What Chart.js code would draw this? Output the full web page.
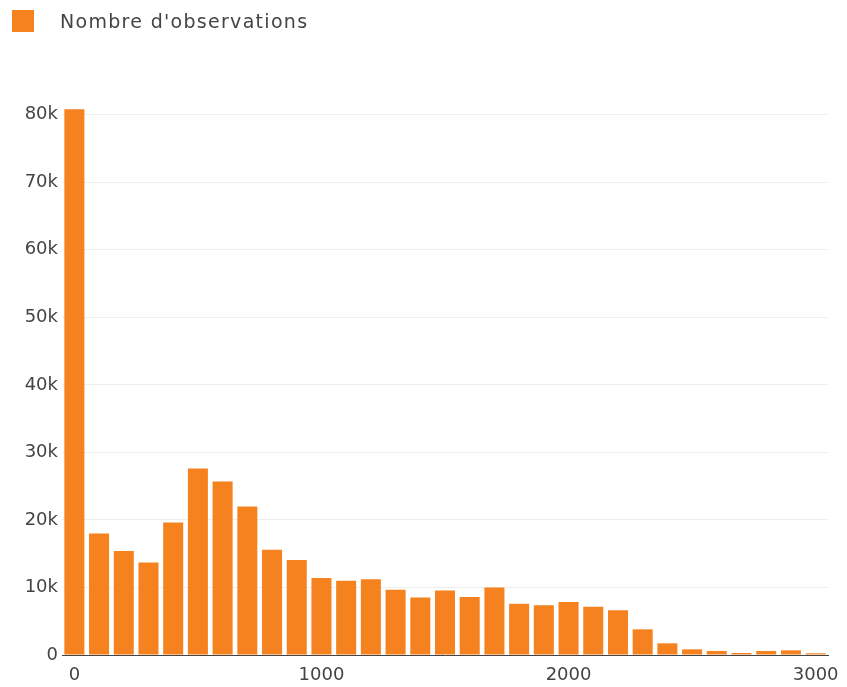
<!DOCTYPE html>
<html>
<head>
<meta charset="utf-8">
<script src="https://cdn.jsdelivr.net/npm/chart.js@4/dist/chart.umd.min.js"></script>
<style>
  html, body { margin: 0; padding: 0; background: #fff; }
  #wrap { position: relative; width: 847px; height: 687px; }
  #legend { position: absolute; left: 12px; top: 10px; height: 22px; display: flex; align-items: center;
            font-family: "DejaVu Sans", Verdana, sans-serif; font-size: 19px; letter-spacing: 1.3px; color: #444; }
  #legend .sw { width: 22px; height: 22px; margin-right: 26px; }
</style>
</head>
<body>
<div id="wrap">
  <canvas id="c" width="847" height="687"></canvas>
  <div id="legend"></div>
</div>
<script>
// Bin centres (width 100) and counts
const binCenters = [0, 100, 200, 300, 400, 500, 600, 700, 800, 900,
  1000, 1100, 1200, 1300, 1400, 1500, 1600, 1700, 1800, 1900,
  2000, 2100, 2200, 2300, 2400, 2500, 2600, 2700, 2800, 2900, 3000];
const counts = [80800, 18000, 15400, 13700, 19600, 27600, 25700, 22000, 15600, 14050,
  11400, 11000, 11200, 9650, 8500, 9560, 8580, 10000, 7590, 7350,
  7840, 7150, 6610, 3800, 1730, 840, 600, 300, 600, 690, 250];
const seriesLabel = "Nombre d'observations";
const xTickValues = [0, 1000, 2000, 3000];
const xTickLabels = ['0', '1000', '2000', '3000'];
const yTickValues = [0, 10000, 20000, 30000, 40000, 50000, 60000, 70000, 80000];
const yTickLabels = ['0', '10k', '20k', '30k', '40k', '50k', '60k', '70k', '80k'];

const barColor = '#f5821f';
const textColor = '#444';
const fontFamily = '"DejaVu Sans", Verdana, sans-serif';

// HTML legend
const lg = document.getElementById('legend');
const sw = document.createElement('span'); sw.className = 'sw'; sw.style.background = barColor;
const tx = document.createElement('span'); tx.textContent = seriesLabel;
lg.appendChild(sw); lg.appendChild(tx);

new Chart(document.getElementById('c'), {
  type: 'bar',
  data: {
    labels: binCenters,
    datasets: [{
      label: seriesLabel,
      data: counts,
      backgroundColor: barColor,
      borderWidth: 0,
      barPercentage: 0.81,
      categoryPercentage: 1.0
    }]
  },
  options: {
    responsive: false,
    animation: false,
    layout: { padding: { left: 0, right: 19, top: 82, bottom: 0 } },
    plugins: { legend: { display: false }, tooltip: { enabled: false } },
    scales: {
      x: {
        type: 'category',
        offset: true,
        grid: { display: false, drawTicks: false },
        border: { display: true, color: '#444', width: 1 },
        ticks: {
          autoSkip: false, maxRotation: 0, minRotation: 0, padding: 10,
          color: textColor, font: { family: fontFamily, size: 18 },
          callback: function(v, i) {
            const k = xTickValues.indexOf(binCenters[i]);
            return k >= 0 ? xTickLabels[k] : null;
          }
        },
        afterFit: function(s) { s.height = 32; s.paddingLeft = 0; s.paddingRight = 0; }
      },
      y: {
        min: 0, max: 84840,
        grid: { color: '#eeeeee', lineWidth: 1, drawTicks: false },
        border: { display: false },
        afterBuildTicks: function(s) { s.ticks = yTickValues.map(function(v) { return { value: v }; }); },
        ticks: {
          autoSkip: false, padding: 4,
          color: textColor, font: { family: fontFamily, size: 18 },
          callback: function(v, i) { return yTickLabels[i]; }
        },
        afterFit: function(s) { s.width = 62; s.paddingTop = 0; s.paddingBottom = 0; }
      }
    }
  }
});
</script>
</body>
</html>
